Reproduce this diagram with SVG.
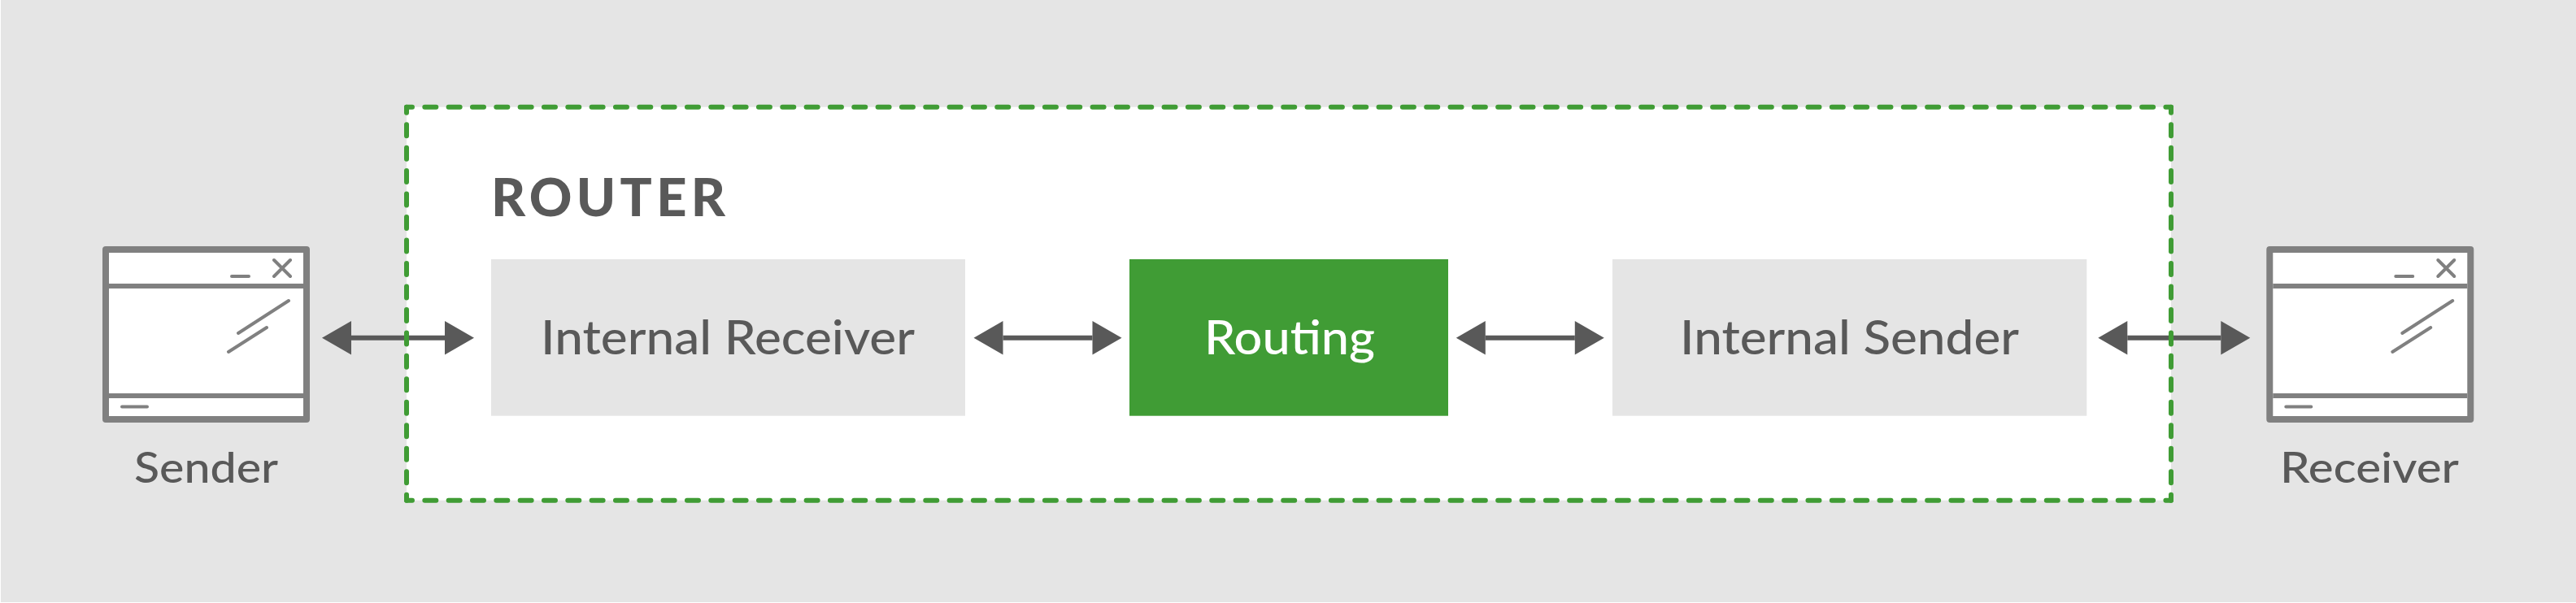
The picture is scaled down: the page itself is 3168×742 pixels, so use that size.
<svg xmlns="http://www.w3.org/2000/svg" width="3168" height="742" viewBox="0 0 3168 742">
<style>
text{font-family:"Lato","Noto Sans","Liberation Sans",sans-serif;fill:#595959;font-weight:500}
.lg{font-size:57px}
.sm{font-size:52px}
.win{fill:#fff;stroke:#808080;stroke-width:8;stroke-linejoin:round}
.bar{stroke:#808080;stroke-width:6;fill:none}
.ico{stroke:#808080;stroke-width:4;stroke-linecap:round;fill:none}
.dash{stroke:#409c35;stroke-width:6;stroke-linecap:round;fill:none}
.shaft{stroke:#595959;stroke-width:6;fill:none}
.head{fill:#595959}
</style>
<defs>
<g id="window">
<rect class="win" x="130" y="307" width="247" height="209"/>
<path class="bar" d="M134 352H373M134 487H373"/>
<path class="ico" d="M337 320L357 340M357 320L337 340M285 340H306M293 410L355 370M281 433L328 403M150 500.500H181"/>
</g>
<g id="arrow-long">
<path class="shaft" d="M36 0H151"/>
<path class="head" d="M0 0L36 -20.700V20.700ZM187 0L151 -20.700V20.700Z"/>
</g>
<g id="arrow-short">
<path class="shaft" d="M36 0H146"/>
<path class="head" d="M0 0L36 -20.700V20.700ZM182 0L146 -20.700V20.700Z"/>
</g>
</defs>
<rect x="1" y="0" width="3167" height="741" fill="#e5e5e5"/>
<rect id="router-area" x="500" y="131.700" width="2170" height="484" fill="#fff"/>
<g id="connectors">
<use href="#arrow-long" x="396" y="415.700"/>
<use href="#arrow-short" x="1197.500" y="415.700"/>
<use href="#arrow-short" x="1790.800" y="415.700"/>
<use href="#arrow-long" x="2580.300" y="415.700"/>
</g>
<g id="router">
<path class="dash" d="M500 131.700H2670M500 615.700H2670" stroke-dasharray="14 15.330" stroke-dashoffset="7"/>
<path class="dash" d="M500 131.700V615.700M2670 131.700V615.700" stroke-dasharray="14 14.470" stroke-dashoffset="7"/>
<text x="604" y="265.700" font-size="65" style="font-weight:900" textLength="288" lengthAdjust="spacing">ROUTER</text>
</g>
<g id="sender"><use href="#window"/><text class="sm" x="165" y="594" textLength="177" lengthAdjust="spacingAndGlyphs">Sender</text></g>
<g id="internal-receiver"><rect x="604" y="319" width="583" height="192.700" fill="#e5e5e5"/><text class="lg" x="665" y="436" textLength="460" lengthAdjust="spacingAndGlyphs">Internal Receiver</text></g>
<g id="routing"><rect x="1389" y="319" width="392" height="192.700" fill="#409c35"/><text class="lg" x="1481" y="436" textLength="210" lengthAdjust="spacingAndGlyphs" style="fill:#fff">Routing</text></g>
<g id="internal-sender"><rect x="1983" y="319" width="583.300" height="192.700" fill="#e5e5e5"/><text class="lg" x="2066" y="436" textLength="417" lengthAdjust="spacingAndGlyphs">Internal Sender</text></g>
<g id="receiver"><use href="#window" x="2661.300"/><text class="sm" x="2804" y="594" textLength="220" lengthAdjust="spacingAndGlyphs">Receiver</text></g>
</svg>
